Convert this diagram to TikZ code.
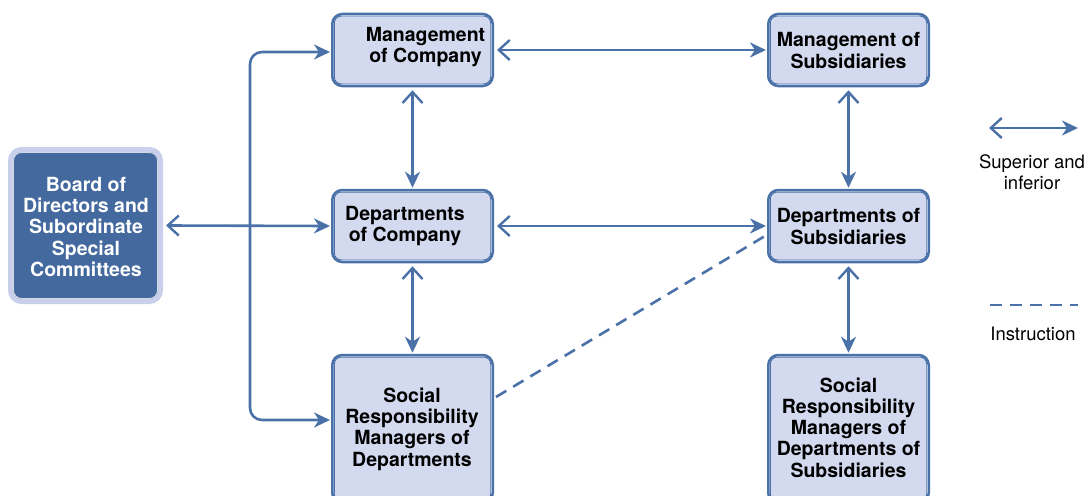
\documentclass[tikz,border=0pt]{standalone}
\usepackage{fontspec}
\setmainfont{TeX Gyre Heros}
\usetikzlibrary{arrows.meta}
\definecolor{edge}{HTML}{4A72A8}
\definecolor{boxfill}{HTML}{D3D9EE}
\definecolor{board}{HTML}{44699F}
\definecolor{halo}{HTML}{C9D0EC}
\tikzset{
  box/.style={draw=edge, line width=2.5pt, fill=white, rounded corners=10pt,
    minimum width=160.5pt, inner sep=0pt},
  lbl/.style={font=\fontsize{19.5}{21.3}\selectfont\bfseries, align=center, inner sep=0pt},
  leg/.style={font=\fontsize{18.5}{21.5}\selectfont, align=center, inner sep=0pt},
  link/.style={draw=edge, line width=2.6pt,
    {Straight Barb[length=11pt,width=20pt,line width=2.4pt]}-{Stealth[length=16pt,width=15pt,inset=5pt]}},
  spine/.style={draw=edge, line width=2.6pt, rounded corners=12pt,
    {Stealth[length=16pt,width=15pt,inset=5pt]}-{Stealth[length=16pt,width=15pt,inset=5pt]}},
  instr/.style={draw=edge, line width=2.6pt, dash pattern=on 12pt off 8pt},
}
\newcommand{\innerbox}[1]{%
  \draw[edge, line width=0.9pt, fill=boxfill, rounded corners=7pt]
    ([shift={(3.3pt,3.3pt)}]#1.south west) rectangle ([shift={(-3.3pt,-3.3pt)}]#1.north east);}
\begin{document}
\begin{tikzpicture}[x=1pt,y=-1pt]
\useasboundingbox (0,0) rectangle (1091,495);
\clip (0,0) rectangle (1091,495);
% boxes
\node[box, minimum height=72pt] (mc) at (412.5,50) {};
\node[box, minimum height=72pt] (dc) at (412.5,226) {};
\node[box, minimum height=148pt] (sc) at (412.5,429) {};
\node[box, minimum height=72pt] (ms) at (848.5,50) {};
\node[box, minimum height=72pt] (ds) at (848.5,226) {};
\node[box, minimum height=148pt] (ss) at (848.5,429) {};
\foreach \n in {mc,dc,sc,ms,ds,ss} {\innerbox{\n}}
% board
\node[draw=halo, line width=5pt, fill=board, rounded corners=11pt,
  minimum width=150pt, minimum height=152pt] (bd) at (85.5,225.5) {};
\draw[white!75!board, line width=0.9pt, rounded corners=8pt]
  ([shift={(5.5pt,5.5pt)}]bd.south west) rectangle ([shift={(-5.5pt,-5.5pt)}]bd.north east);
% labels
\node[lbl] (tmc) at (425.5,47) {Management\\of Company};
\node[lbl] (tdc) at (405,226) {Departments\\of Company};
\node[lbl] (tsc) at (412,429) {Social\\Responsibility\\Managers of\\Departments};
\node[lbl] (tms) at (848.5,50.5) {Management of\\Subsidiaries};
\node[lbl] (tds) at (848.5,226.5) {Departments of\\Subsidiaries};
\node[lbl] (tss) at (848.5,427.5) {Social\\Responsibility\\Managers of\\Departments of\\Subsidiaries};
\node[lbl, text=white] (tbd) at (86,227) {Board of\\Directors and\\Subordinate\\Special\\Committees};
% connectors
\coordinate (sp) at (250,226);
\coordinate (sa) at ([shift={(-1pt,-2pt)}]mc.west);
\coordinate (sb) at ([shift={(-1pt,9pt)}]sc.west);
\path[link] ([xshift=3pt]bd.east) -- ([xshift=-1pt]dc.west);
\path[spine] (sa) -- (sp |- sa) -- (sp |- sb) -- (sb);
\path[link] ([xshift=3pt]mc.east) -- ([xshift=-1pt]ms.west);
\path[link] ([xshift=3pt]dc.east) -- ([xshift=-1pt]ds.west);
\path[link] ([yshift=-3pt]mc.south) -- ([yshift=1pt]dc.north);
\path[link] ([yshift=-3pt]dc.south) -- ([yshift=1pt]sc.north);
\path[link] ([yshift=-3pt]ms.south) -- ([yshift=1pt]ds.north);
\path[link] ([yshift=-3pt]ds.south) -- ([yshift=1pt]ss.north);
\path[instr] ([shift={(2pt,32pt)}]sc.east) -- ([shift={(-2pt,-10pt)}]ds.west);
% legend
\coordinate (la) at (989,128);
\coordinate (lb) at (1078,128);
\path[link] (la) -- (lb);
\node[leg] (tl1) at (1032,172) {Superior and\\inferior};
\coordinate (lc) at (990,305);
\coordinate (ld) at (1078,305);
\path[instr] (lc) -- (ld);
\node[leg] (tl2) at (1033,334) {Instruction};
\end{tikzpicture}
\end{document}
